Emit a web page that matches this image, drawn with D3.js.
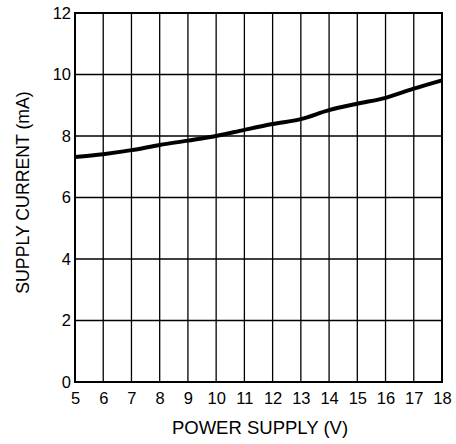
<!DOCTYPE html>
<html>
<head>
<meta charset="utf-8">
<script src="https://cdn.jsdelivr.net/npm/d3@7"></script>
<style>
  html, body { margin: 0; padding: 0; background: #fff; }
  svg { display: block; }
  text { font-family: "Liberation Sans", Arial, sans-serif; fill: #000; }
</style>
</head>
<body>
<div id="chart"></div>
<script>
const supplyVoltage = [5, 6, 7, 8, 9, 10, 11, 12, 13, 14, 15, 16, 17, 18];
const supplyCurrent = [7.32, 7.41, 7.54, 7.71, 7.85, 8.0, 8.2, 8.39, 8.55, 8.84, 9.05, 9.24, 9.54, 9.81];
const xTicks = [5, 6, 7, 8, 9, 10, 11, 12, 13, 14, 15, 16, 17, 18];
const yTicks = [0, 2, 4, 6, 8, 10, 12];
const xTitle = "POWER SUPPLY (V)";
const yTitle = "SUPPLY CURRENT (mA)";

const W = 456, H = 444;
const m = { left: 75, right: 14, top: 13, bottom: 62 };

const svg = d3.select("#chart").append("svg")
  .attr("width", W).attr("height", H);

const x = d3.scaleLinear().domain([5, 18]).range([m.left, W - m.right]);
const y = d3.scaleLinear().domain([0, 12]).range([H - m.bottom, m.top]);

// grid
const g = svg.append("g");
g.selectAll("line.vx").data(xTicks).join("line")
  .attr("x1", d => x(d)).attr("x2", d => x(d))
  .attr("y1", y(0)).attr("y2", y(12))
  .attr("stroke", "#000").attr("stroke-width", 1.3);
g.selectAll("line.hy").data(yTicks).join("line")
  .attr("x1", x(5)).attr("x2", x(18))
  .attr("y1", d => y(d)).attr("y2", d => y(d))
  .attr("stroke", "#000").attr("stroke-width", 1.3);

// frame
svg.append("rect")
  .attr("x", x(5)).attr("y", y(12))
  .attr("width", x(18) - x(5)).attr("height", y(0) - y(12))
  .attr("fill", "none").attr("stroke", "#000").attr("stroke-width", 2);

// axes labels via d3 axes
const xAxis = d3.axisBottom(x).tickValues(xTicks).tickSize(0).tickPadding(10).tickFormat(d3.format("d"));
const xa = svg.append("g").attr("transform", `translate(0,${y(0)})`).call(xAxis);
xa.select(".domain").remove();
xa.selectAll("text").attr("font-size", 16.5).attr("font-family", "Liberation Sans, Arial, sans-serif").attr("fill", "#000");

const yAxis = d3.axisLeft(y).tickValues(yTicks).tickSize(0).tickPadding(4).tickFormat(d3.format("d"));
const ya = svg.append("g").attr("transform", `translate(${x(5)},0)`).call(yAxis);
ya.select(".domain").remove();
ya.selectAll("text").attr("font-size", 16.5).attr("font-family", "Liberation Sans, Arial, sans-serif").attr("fill", "#000");

// curve
const line = d3.line()
  .x((d, i) => x(supplyVoltage[i]))
  .y(d => y(d))
  .curve(d3.curveMonotoneX);
svg.append("path")
  .datum(supplyCurrent)
  .attr("d", line)
  .attr("fill", "none")
  .attr("stroke", "#000")
  .attr("stroke-width", 4)
  .attr("stroke-linejoin", "round");

// titles
svg.append("text")
  .attr("x", 260).attr("y", 434)
  .attr("text-anchor", "middle")
  .attr("font-size", 18.5)
  .text(xTitle);

svg.append("text")
  .attr("transform", `translate(29,192.5) rotate(-90)`)
  .attr("text-anchor", "middle")
  .attr("font-size", 17.7)
  .text(yTitle);
</script>
</body>
</html>
